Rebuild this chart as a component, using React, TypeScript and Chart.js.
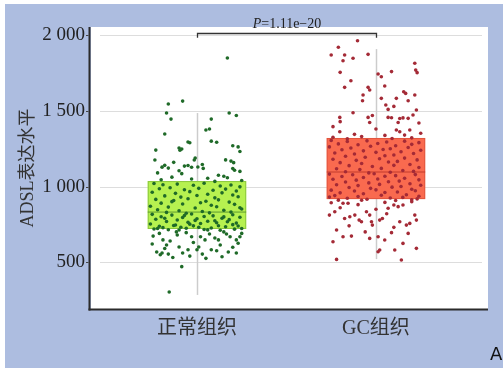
import { useEffect, useRef } from 'react';
import { Chart, registerables } from 'chart.js';

Chart.register(...registerables);

const categories = ['正常组织', 'GC组织'];
const yTicks = [500, 1000, 1500, 2000];
const yTitle = 'ADSL表达水平';

// box statistics
const boxQ1 = [719, 917];
const boxMedian = [831, 1096];
const boxQ3 = [1036, 1321];
const whiskerLow = [283, 520];
const whiskerHigh = [1486, 1909];

const pLabel = '=1.11e\u221220';
const pBracketValue = 2013;
const pBracketDrop = 1984;
const pTextValue = 2049;

// [horizontal jitter (category units), ADSL value]
const normalPoints: [number, number][] = [
  [0.17, 1850], [-0.16, 1546], [-0.08, 1565], [-0.17, 1486], [0.18, 1486], [0.22, 1470], [-0.145, 1446], [0.08, 1446],
  [0.05, 1374], [0.07, 1380], [-0.18, 1347], [-0.05, 1294], [-0.04, 1289], [0.08, 1300], [0.11, 1293], [-0.1, 1255],
  [-0.085, 1248], [-0.095, 1240], [-0.23, 1241], [0.2, 1270], [0.23, 1262], [0.24, 1232], [-0.01, 1188], [-0.015, 1175],
  [0.16, 1176], [0.19, 1168], [0.205, 1158], [-0.235, 1175], [-0.13, 1160], [-0.18, 1140], [-0.195, 1128], [-0.16, 1122],
  [-0.07, 1135], [-0.05, 1139], [-0.03, 1127], [0.03, 1146], [0.035, 1120], [0.005, 1129], [0.2, 1119], [0.24, 1100],
  [0.21, 1108], [-0.1, 1104], [-0.085, 1085], [-0.22, 1090], [0.12, 1075], [0.15, 1068], [-0.14, 1062], [0.06, 1055],
  [-0.2, 1045], [0.25, 1040], [0.1, 1034], [-0.03, 1050], [0.17, 1058],
  [-0.24, 1020], [-0.19, 1012], [-0.11, 1016], [-0.02, 1008], [0.04, 1022], [0.13, 1003], [0.19, 1010], [0.24, 998],
  [-0.21, 985], [-0.15, 992], [-0.07, 979], [0.01, 988], [0.09, 975], [0.16, 983], [0.22, 970], [-0.25, 962],
  [-0.12, 955], [-0.04, 966], [0.06, 949], [0.14, 958], [0.2, 944], [-0.18, 938], [-0.09, 930], [0.0, 941],
  [0.1, 925], [0.23, 932], [-0.23, 915], [-0.13, 908], [-0.05, 919], [0.05, 903], [0.12, 912], [0.18, 897],
  [-0.2, 890], [-0.08, 884], [0.02, 893], [0.08, 876], [0.21, 882], [-0.26, 870], [-0.16, 864], [-0.01, 858],
  [0.11, 866], [0.25, 851], [-0.22, 846], [-0.1, 840], [0.03, 835], [0.15, 843], [-0.17, 829], [0.07, 826],
  [0.19, 831], [-0.06, 823], [0.24, 860], [-0.14, 900],
  [-0.25, 816], [-0.14, 811], [-0.03, 818], [0.09, 806], [0.2, 813], [-0.2, 800], [-0.08, 795], [0.04, 802],
  [0.14, 790], [0.24, 797], [-0.23, 784], [-0.11, 779], [0.0, 787], [0.1, 774], [0.18, 781], [-0.17, 769],
  [-0.05, 763], [0.06, 770], [0.22, 758], [-0.26, 752], [-0.12, 746], [0.02, 755], [0.12, 741], [0.2, 748],
  [-0.21, 737], [-0.09, 731], [-0.02, 740], [0.08, 726], [0.16, 734], [0.25, 722], [-0.24, 719], [-0.16, 714],
  [-0.06, 724], [0.04, 716], [0.13, 711], [0.21, 718], [-0.19, 728], [-0.13, 742], [0.11, 760], [-0.01, 776],
  [0.17, 767], [-0.07, 808], [-0.22, 722], [0.06, 713], [0.23, 739], [-0.04, 751], [0.15, 799], [-0.18, 790],
  [0.01, 730], [-0.1, 712],
  [-0.245, 672], [-0.19, 647], [-0.17, 613], [-0.225, 567], [-0.195, 560], [-0.205, 549], [-0.16, 553], [-0.135, 531],
  [-0.08, 560], [-0.05, 582], [-0.03, 668], [0.02, 668], [0.045, 647], [0.07, 686], [0.12, 647], [0.13, 613],
  [0.165, 686], [0.185, 668], [0.22, 647], [0.23, 625], [0.24, 668], [0.175, 567], [0.22, 560], [0.08, 582],
  [0.0, 582], [0.03, 553], [-0.085, 470], [-0.155, 302], [-0.21, 690], [-0.11, 679], [-0.15, 640], [-0.115, 700],
  [-0.06, 695], [-0.02, 630], [0.01, 600], [0.1, 660], [0.15, 700], [0.2, 598], [0.25, 690], [-0.25, 620],
  [-0.18, 590], [-0.1, 600], [0.05, 525], [0.14, 536], [-0.04, 540], [0.11, 575],
];

const gcPoints: [number, number][] = [
  [-0.103, 1964], [-0.21, 1921], [-0.25, 1870], [-0.175, 1870], [-0.184, 1832], [-0.128, 1848], [-0.044, 1874], [0.217, 1815],
  [0.222, 1770], [0.23, 1753], [-0.2, 1755], [-0.14, 1700], [0.012, 1744], [0.03, 1726], [0.087, 1760], [-0.175, 1656],
  [-0.044, 1656], [-0.035, 1638], [-0.072, 1605], [-0.075, 1567], [0.049, 1665], [0.114, 1583], [0.18, 1567], [0.155, 1627],
  [0.166, 1616], [0.217, 1605], [0.03, 1583], [0.055, 1539], [0.068, 1510], [0.226, 1506], [0.207, 1473], [0.18, 1451],
  [-0.128, 1488], [-0.202, 1457], [-0.24, 1396], [-0.2, 1429], [-0.202, 1362], [-0.044, 1457], [-0.035, 1423], [0.068, 1457],
  [0.087, 1455], [0.133, 1450], [0.151, 1454], [0.124, 1423], [0.114, 1374], [0.133, 1362], [0.189, 1374], [-0.12, 1345],
  [-0.08, 1330], [0.0, 1380], [0.05, 1338], [0.25, 1352], [-0.24, 1326], [0.2, 1322], [0.09, 1318], [-0.16, 1316],
  [0.16, 1340], [-0.02, 1470], [0.1, 1530], [0.24, 1420],
  [-0.25, 1305], [-0.16, 1298], [-0.05, 1302], [0.06, 1294], [0.16, 1300], [0.24, 1290], [-0.21, 1282], [-0.1, 1276],
  [0.01, 1285], [0.11, 1270], [0.2, 1279], [-0.26, 1262], [-0.14, 1255], [-0.03, 1266], [0.08, 1250], [0.18, 1258],
  [-0.19, 1243], [-0.07, 1236], [0.04, 1245], [0.14, 1230], [0.25, 1240], [-0.23, 1222], [-0.12, 1215], [0.0, 1226],
  [0.1, 1208], [0.21, 1218], [-0.17, 1200], [-0.06, 1194], [0.05, 1204], [0.16, 1188], [-0.24, 1180], [-0.11, 1173],
  [0.02, 1184], [0.12, 1166], [0.23, 1176], [-0.2, 1158], [-0.08, 1152], [0.07, 1162], [0.19, 1146], [-0.15, 1138],
  [-0.02, 1132], [0.1, 1140], [0.24, 1126], [-0.22, 1118], [-0.09, 1112], [0.03, 1120], [0.15, 1106], [-0.17, 1098],
  [0.08, 1094], [0.21, 1100], [-0.04, 1090],
  [-0.26, 1082], [-0.13, 1078], [-0.01, 1084], [0.11, 1072], [0.22, 1079], [-0.19, 1066], [-0.07, 1060], [0.05, 1068],
  [0.16, 1055], [-0.24, 1048], [-0.11, 1042], [0.01, 1050], [0.13, 1036], [0.24, 1044], [-0.17, 1030], [-0.04, 1024],
  [0.07, 1032], [0.19, 1018], [-0.22, 1012], [-0.1, 1006], [0.02, 1014], [0.14, 1000], [0.25, 1008], [-0.15, 994],
  [-0.03, 988], [0.09, 996], [0.2, 982], [-0.25, 976], [-0.12, 970], [0.0, 978], [0.12, 964], [0.22, 972],
  [-0.2, 958], [-0.07, 952], [0.05, 960], [0.17, 946], [-0.23, 940], [-0.1, 934], [0.03, 942], [0.15, 928],
  [0.24, 936], [-0.16, 922], [-0.05, 916], [0.08, 924], [0.2, 912], [-0.21, 910], [0.11, 908], [-0.08, 909],
  [0.23, 918], [-0.26, 930],
  [-0.25, 893], [-0.26, 811], [-0.23, 833], [-0.184, 889], [-0.156, 889], [-0.175, 789], [-0.146, 800], [-0.118, 811],
  [-0.094, 778], [-0.081, 767], [-0.053, 833], [-0.035, 811], [-0.025, 767], [-0.02, 745], [0.021, 778], [0.036, 789],
  [0.068, 856], [0.1, 878], [0.124, 867], [0.151, 878], [0.133, 767], [0.17, 745], [0.189, 756], [0.217, 811],
  [0.226, 778], [-0.22, 712], [-0.24, 635], [-0.184, 668], [-0.137, 672], [-0.035, 657], [0.012, 668], [0.021, 580],
  [0.012, 569], [0.049, 646], [0.087, 695], [0.105, 580], [0.151, 624], [0.226, 591], [-0.22, 518], [0.142, 514],
  [-0.1, 880], [0.05, 895], [0.2, 900], [-0.2, 860], [0.0, 850], [-0.06, 700], [0.18, 690], [0.1, 730],
  [-0.15, 740], [0.06, 820],
];

const SERIF = '"Liberation Serif", "Noto Sans CJK SC", serif';
const boxFill = ['#b6f150', '#f96a4f'];
const boxBorder = ['#8cc83e', '#e2573f'];
const medianColor = ['#5f9a2e', '#c23a2c'];
const pointColor = ['#1f6a28', '#a42a36'];
const boxHalf = 0.275;

function formatTick(v: number): string {
  if (v >= 1000) {
    return `${Math.floor(v / 1000)} ${String(v % 1000).padStart(3, '0')}`;
  }
  return String(v);
}

const decorPlugin = {
  id: 'decor',
  beforeDraw(chart: any) {
    const { ctx, chartArea: a, width, height } = chart;
    ctx.save();
    ctx.fillStyle = '#ffffff';
    ctx.fillRect(0, 0, width, height);
    ctx.fillStyle = '#adbde0';
    ctx.fillRect(5, 4, width - 5, height - 4);
    ctx.fillStyle = '#ffffff';
    ctx.fillRect(a.left, a.top, a.right - a.left, a.bottom - a.top);
    ctx.restore();
  },
  beforeDatasetsDraw(chart: any) {
    const { ctx, chartArea: a, scales } = chart;
    const x = scales.x;
    const y = scales.y;
    ctx.save();
    ctx.strokeStyle = '#dddddd';
    ctx.lineWidth = 1.2;
    yTicks.forEach((v) => {
      const py = Math.round(y.getPixelForValue(v)) + 0.5;
      ctx.beginPath();
      ctx.moveTo(a.left + 9, py);
      ctx.lineTo(a.right - 6, py);
      ctx.stroke();
    });
    categories.forEach((_, i) => {
      const cx = Math.round(x.getPixelForValue(i + 1)) + 0.5;
      ctx.strokeStyle = '#cccccc';
      ctx.lineWidth = 1.5;
      ctx.beginPath();
      ctx.moveTo(cx, y.getPixelForValue(whiskerLow[i]));
      ctx.lineTo(cx, y.getPixelForValue(whiskerHigh[i]));
      ctx.stroke();
      const l = x.getPixelForValue(i + 1 - boxHalf);
      const r = x.getPixelForValue(i + 1 + boxHalf);
      const t = y.getPixelForValue(boxQ3[i]);
      const b = y.getPixelForValue(boxQ1[i]);
      ctx.fillStyle = boxFill[i];
      ctx.fillRect(l, t, r - l, b - t);
      ctx.strokeStyle = boxBorder[i];
      ctx.lineWidth = 1;
      ctx.strokeRect(l + 0.5, t + 0.5, r - l - 1, b - t - 1);
      const m = y.getPixelForValue(boxMedian[i]);
      ctx.strokeStyle = medianColor[i];
      ctx.lineWidth = 1;
      ctx.beginPath();
      ctx.moveTo(l, m);
      ctx.lineTo(r, m);
      ctx.stroke();
    });
    ctx.restore();
  },
  afterDraw(chart: any) {
    const { ctx, chartArea: a, scales } = chart;
    const x = scales.x;
    const y = scales.y;
    ctx.save();
    // axes
    ctx.fillStyle = '#2b2b2b';
    ctx.fillRect(a.left - 2.5, a.top, 2, a.bottom - a.top + 1.5);
    ctx.fillRect(a.left - 2.5, a.bottom - 0.5, a.right - a.left + 2.5, 2);
    // tick marks
    ctx.strokeStyle = '#444444';
    ctx.lineWidth = 1;
    yTicks.forEach((v) => {
      const py = Math.round(y.getPixelForValue(v)) + 0.5;
      ctx.beginPath();
      ctx.moveTo(a.left - 5, py);
      ctx.lineTo(a.left - 2.5, py);
      ctx.stroke();
    });
    // significance bracket
    const x1 = Math.round(x.getPixelForValue(1)) + 0.5;
    const x2 = Math.round(x.getPixelForValue(2)) + 0.5;
    const by = Math.round(y.getPixelForValue(pBracketValue)) + 0.5;
    const bd = y.getPixelForValue(pBracketDrop);
    ctx.strokeStyle = '#333333';
    ctx.lineWidth = 1.3;
    ctx.beginPath();
    ctx.moveTo(x1, bd);
    ctx.lineTo(x1, by);
    ctx.lineTo(x2, by);
    ctx.lineTo(x2, bd);
    ctx.stroke();
    // P text
    const ty = y.getPixelForValue(pTextValue);
    ctx.fillStyle = '#222222';
    ctx.textBaseline = 'alphabetic';
    ctx.textAlign = 'left';
    ctx.font = `italic 14px ${SERIF}`;
    const wP = ctx.measureText('P').width;
    ctx.font = `14px ${SERIF}`;
    const wR = ctx.measureText(pLabel).width;
    const start = (x1 + x2) / 2 - (wP + wR) / 2;
    ctx.font = `italic 14px ${SERIF}`;
    ctx.fillText('P', start, ty);
    ctx.font = `14px ${SERIF}`;
    ctx.fillText(pLabel, start + wP, ty);
    // panel letter
    ctx.fillStyle = '#111111';
    ctx.font = '18px "DejaVu Sans", sans-serif';
    ctx.fillText('A', 490, 360);
    ctx.restore();
  },
};

export default function App() {
  const ref = useRef<HTMLCanvasElement | null>(null);
  useEffect(() => {
    if (!ref.current) return;
    const chart = new Chart(ref.current, {
      type: 'scatter',
      data: {
        datasets: [
          {
            data: normalPoints.map(([dx, v]) => ({ x: 1 + dx, y: v })),
            backgroundColor: pointColor[0],
            borderWidth: 0,
            pointRadius: 1.8,
          },
          {
            data: gcPoints.map(([dx, v]) => ({ x: 2 + dx, y: v })),
            backgroundColor: pointColor[1],
            borderWidth: 0,
            pointRadius: 1.8,
          },
        ],
      },
      options: {
        responsive: false,
        animation: false,
        layout: { padding: { left: 5, top: 27, right: 15, bottom: 0 } },
        plugins: { legend: { display: false }, tooltip: { enabled: false } },
        scales: {
          x: {
            type: 'linear',
            min: 0.408,
            max: 2.626,
            grid: { display: false, drawTicks: false },
            border: { display: false },
            afterBuildTicks: (s: any) => {
              s.ticks = categories.map((_, i) => ({ value: i + 1 }));
            },
            afterFit: (s: any) => {
              s.height = 59;
            },
            ticks: {
              callback: (v: any) => categories[Number(v) - 1] ?? '',
              font: { family: SERIF, size: 20 },
              color: '#333333',
              padding: 8,
              maxRotation: 0,
              autoSkip: false,
            },
          },
          y: {
            min: 190,
            max: 2055,
            grid: { display: false, drawTicks: false },
            border: { display: false },
            afterBuildTicks: (s: any) => {
              s.ticks = yTicks.map((v) => ({ value: v }));
            },
            afterFit: (s: any) => {
              s.width = 86;
            },
            ticks: {
              callback: (v: any) => formatTick(Number(v)),
              font: { family: SERIF, size: 19 },
              color: '#222222',
              padding: 6,
            },
            title: {
              display: true,
              text: yTitle,
              font: { family: SERIF, size: 18 },
              color: '#333333',
              padding: { top: 12, bottom: 0 },
            },
          },
        },
      },
      plugins: [decorPlugin],
    });
    return () => chart.destroy();
  }, []);
  return (
    <div style={{ position: 'fixed', left: 0, top: 0, width: 503, height: 368 }}>
      <canvas ref={ref} width={503} height={368} style={{ display: 'block' }} />
    </div>
  );
}
